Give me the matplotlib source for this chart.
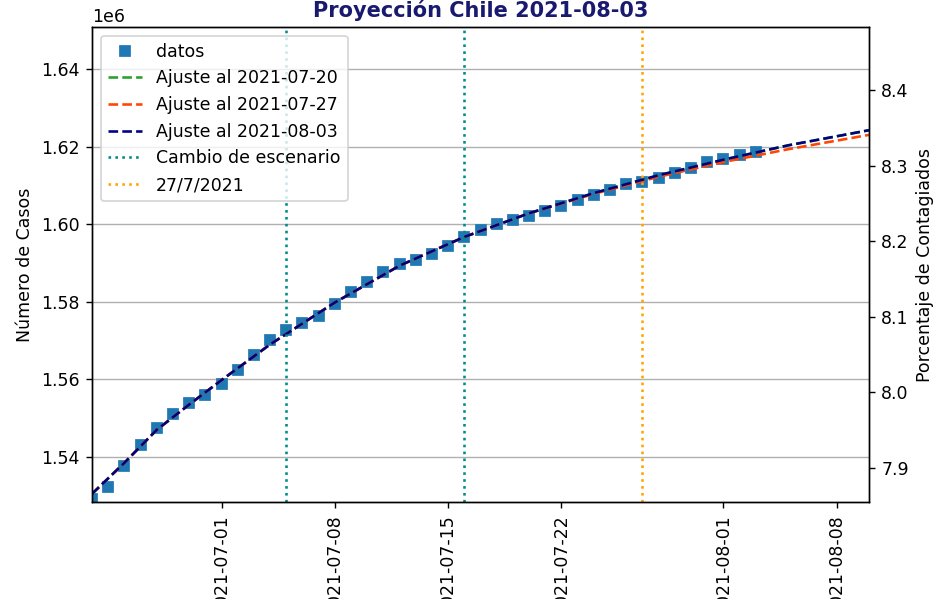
import matplotlib
matplotlib.use("Agg")
import matplotlib.pyplot as plt
import matplotlib.dates as mdates
import numpy as np
import pandas as pd

POBLACION = 19458310

fechas_datos = pd.date_range("2021-06-23", "2021-08-03", freq="D")
casos = [
    1529200, 1532300, 1537800, 1543000, 1547400, 1551200, 1554000, 1556100,
    1558700, 1562500, 1566300, 1570100, 1572600, 1574500, 1576400, 1579500,
    1582600, 1585200, 1587600, 1589800, 1590800, 1592400, 1594400, 1596800,
    1598600, 1600100, 1601000, 1602000, 1603500, 1604600, 1606300, 1607600,
    1608900, 1610300, 1610900, 1611900, 1613200, 1614400, 1616000, 1616800,
    1617700, 1618500,
]

fechas_ajuste = pd.to_datetime([
    "2021-06-23", "2021-06-25", "2021-06-27", "2021-06-29", "2021-07-01",
    "2021-07-04", "2021-07-08", "2021-07-12", "2021-07-16", "2021-07-20",
    "2021-07-24", "2021-07-28", "2021-08-01", "2021-08-05", "2021-08-10",
])
ajuste_0720 = [1530500, 1538500, 1547000, 1553500, 1559800, 1569000, 1579800,
               1589300, 1596700, 1602800, 1608000, 1612600, 1616600, 1620300, 1624200]
ajuste_0727 = [1530500, 1538500, 1547000, 1553500, 1559800, 1569000, 1579800,
               1589300, 1596700, 1602800, 1607800, 1612200, 1616000, 1619300, 1623000]
ajuste_0803 = [1530500, 1538500, 1547000, 1553500, 1559800, 1569000, 1579800,
               1589300, 1596700, 1602800, 1608000, 1612600, 1616600, 1620300, 1624200]

cambios_escenario = pd.to_datetime(["2021-07-05", "2021-07-16"])
fecha_marca = pd.Timestamp("2021-07-27")

x_lim = pd.to_datetime(["2021-06-23", "2021-08-10"])
y_lim = (1528400, 1650800)

fig = plt.figure(figsize=(934 / 125, 599 / 125), dpi=125)
ax = fig.add_axes([92 / 934, 97 / 599, 777 / 934, 475 / 599])

ax.plot(fechas_datos, casos, "s", color="tab:blue", markersize=5.8, label="datos")
ax.plot(fechas_ajuste, ajuste_0720, "--", color="tab:green", label="Ajuste al 2021-07-20")
ax.plot(fechas_ajuste, ajuste_0727, "--", color="orangered", label="Ajuste al 2021-07-27")
ax.plot(fechas_ajuste, ajuste_0803, "--", color="navy", label="Ajuste al 2021-08-03")
for i, f in enumerate(cambios_escenario):
    ax.axvline(f, color="darkcyan", linestyle=":",
               label="Cambio de escenario" if i == 0 else None)
ax.axvline(fecha_marca, color="orange", linestyle=":", label="27/7/2021")

ax.set_xlim(x_lim[0], x_lim[1])
ax.set_ylim(*y_lim)
ax.xaxis.set_major_locator(mdates.DayLocator(bymonthday=[1, 8, 15, 22]))
ax.xaxis.set_major_formatter(mdates.DateFormatter("%Y-%m-%d"))
plt.setp(ax.get_xticklabels(), rotation=90)
ax.set_ylabel("Número de Casos")
ax.grid(True, axis="y")
ax.legend(loc="upper left")
ax.set_title("Proyección Chile 2021-08-03", fontsize=12, fontweight="bold",
             color="midnightblue")

ax2 = ax.twinx()
ax2.set_ylim(y_lim[0] / POBLACION * 100, y_lim[1] / POBLACION * 100)
ax2.set_ylabel("Porcentaje de Contagiados")

fig.savefig("out.png", dpi=125)
